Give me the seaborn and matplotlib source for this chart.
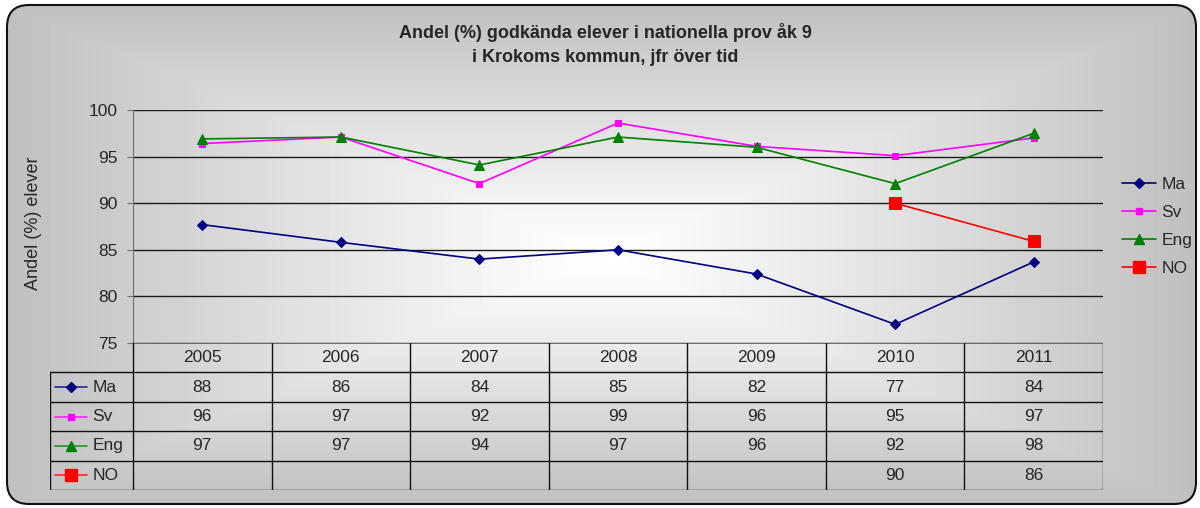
import numpy as np
import pandas as pd
import matplotlib
matplotlib.use('Agg')
import matplotlib.pyplot as plt
import seaborn as sns
from matplotlib.patches import FancyBboxPatch
from matplotlib.lines import Line2D

# data
years = ['2005', '2006', '2007', '2008', '2009', '2010', '2011']
ma = [87.7, 85.8, 84.0, 85.0, 82.4, 77.0, 83.7]
sv = [96.4, 97.1, 92.1, 98.6, 96.1, 95.1, 97.0]
eng = [96.9, 97.1, 94.1, 97.1, 96.0, 92.1, 97.5]
no = [np.nan, np.nan, np.nan, np.nan, np.nan, 90.0, 85.9]
subjects = ['Ma', 'Sv', 'Eng', 'NO']

df = pd.DataFrame({'pos': range(len(years)), 'Ma': ma, 'Sv': sv, 'Eng': eng, 'NO': no})

styles = {
    'Ma': dict(color='#000080', marker='D', markersize=5),
    'Sv': dict(color='#FF00FF', marker='s', markersize=5),
    'Eng': dict(color='#008000', marker='^', markersize=6.5),
    'NO': dict(color='#FF0000', marker='s', markersize=8),
}

sns.set_style('white')
plt.rcParams['font.family'] = ['Liberation Sans', 'DejaVu Sans']
fs = 12.5

W, H = 1200, 508
fig = plt.figure(figsize=(12, 5.08), dpi=100)
fig.patch.set_facecolor('white')

# gradient background inside a rounded frame
bg = fig.add_axes([0, 0, 1, 1])
bg.set_xlim(0, W)
bg.set_ylim(H, 0)
bg.axis('off')
gx, gy = np.meshgrid(np.arange(W), np.arange(H))
d = np.maximum(np.abs(gx - 601) / 594.0, np.abs(gy - 255) / 250.0)
grad = 1 - 0.25 * np.clip(d, 0, 1) ** 1.1
frame = FancyBboxPatch((7, 5), 1189, 499, boxstyle='round,pad=0,rounding_size=22',
                       facecolor='none', edgecolor='#111111', lw=1.5, transform=bg.transData)
im = bg.imshow(grad, cmap='gray', vmin=0, vmax=1, extent=[0, W, H, 0], aspect='auto')
im.set_clip_path(frame)
bg.add_patch(frame)

fig.text(605 / W, 1 - 33 / H, 'Andel (%) godkända elever i nationella prov åk 9',
         ha='center', va='center', fontsize=13, fontweight='bold')
fig.text(605 / W, 1 - 57 / H, 'i Krokoms kommun, jfr över tid',
         ha='center', va='center', fontsize=13, fontweight='bold')
fig.text(33 / W, 1 - 223 / H, 'Andel (%) elever', rotation=90,
         ha='center', va='center', fontsize=13)

# plot area
x0, x1, y0, y1 = 133, 1103, 110, 343
ax = fig.add_axes([x0 / W, 1 - y1 / H, (x1 - x0) / W, (y1 - y0) / H])
ax.patch.set_alpha(0)
for s in subjects:
    sub = df[['pos', s]].dropna()
    sns.lineplot(x=sub['pos'], y=sub[s], ax=ax, lw=1.2, label=s,
                 markeredgecolor=styles[s]['color'], **styles[s])
ax.set_xlim(-0.5, len(years) - 0.5)
ax.set_ylim(75, 100)
ax.set_yticks(range(75, 101, 5))
ax.set_xticks([])
ax.set_xlabel('')
ax.set_ylabel('')
ax.yaxis.grid(True, color='#1a1a1a', lw=1)
ax.set_axisbelow(True)
for sp in ['top', 'right', 'bottom']:
    ax.spines[sp].set_visible(False)
ax.spines['left'].set_color('#707070')
ax.tick_params(axis='y', left=True, length=4, color='#707070', labelsize=fs, pad=7)

handles = [Line2D([0], [0], lw=1.2, markeredgecolor=styles[s]['color'], **styles[s]) for s in subjects]
ax.legend(handles, subjects, loc='center left', bbox_to_anchor=(1.012, 0.5), borderaxespad=0,
          frameon=False, fontsize=fs, handlelength=2.0, labelspacing=0.75, handletextpad=0.3)

# data table below the plot
col_w = (x1 - x0) / len(years)
left_w = (x0 - 50) / col_w
n_rows = len(subjects) + 1
tax = fig.add_axes([50 / W, 1 - 490 / H, (x1 - 50) / W, (490 - y1) / H])
tax.patch.set_alpha(0)
tax.set_xlim(-0.5 - left_w, len(years) - 0.5)
tax.set_ylim(n_rows, 0)
tax.axis('off')
lc = '#111111'
tax.plot([-0.5, len(years) - 0.5], [0, 0], color='#555555', lw=1.2)
for r in range(1, n_rows + 1):
    tax.plot([-0.5 - left_w, len(years) - 0.5], [r, r], color=lc, lw=1)
tax.plot([-0.5 - left_w] * 2, [1, n_rows], color=lc, lw=1)
for c in range(len(years) + 1):
    tax.plot([c - 0.5] * 2, [0, n_rows], color=lc, lw=1)
for i, yr in enumerate(years):
    tax.text(i, 0.5, yr, ha='center', va='center', fontsize=fs)
for r, s in enumerate(subjects, start=1):
    kx0 = -0.5 - left_w + 0.035
    tax.plot([kx0, kx0 + 0.23], [r + 0.5, r + 0.5], lw=1.2, alpha=0.8, color=styles[s]['color'])
    tax.plot([kx0 + 0.115], [r + 0.5], linestyle='none', marker=styles[s]['marker'],
             markersize=styles[s]['markersize'], color=styles[s]['color'])
    tax.text(kx0 + 0.27, r + 0.5, s, ha='left', va='center', fontsize=fs)
    for i, v in enumerate(df[s]):
        if not np.isnan(v):
            tax.text(i, r + 0.5, f'{v:.0f}', ha='center', va='center', fontsize=fs)

fig.savefig('out.png', dpi=100)
